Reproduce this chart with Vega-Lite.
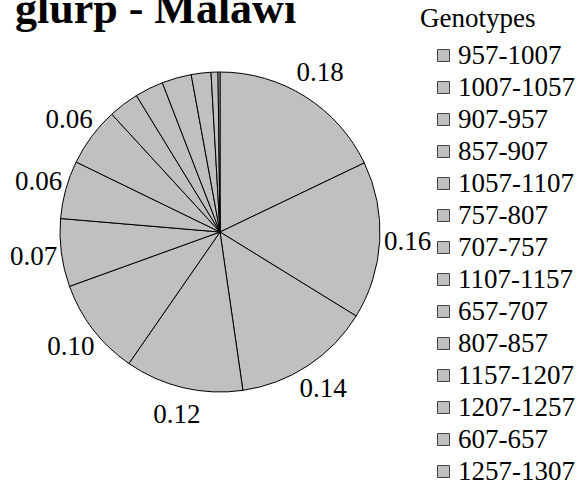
{
  "$schema": "https://vega.github.io/schema/vega-lite/v6.json",
  "width": 440,
  "height": 464,
  "autosize": {"type": "none"},
  "padding": {"left": 0, "top": 0, "right": 147, "bottom": 22},
  "background": "white",
  "title": {
    "text": "glurp - Malawi",
    "anchor": "start",
    "frame": "group",
    "font": "Liberation Serif",
    "fontSize": 44,
    "fontWeight": "bold",
    "color": "black",
    "baseline": "alphabetic",
    "offset": 0,
    "dx": 15,
    "dy": 67
  },
  "data": {
    "values": [
      {"genotype": "957-1007", "share": 0.180, "k": 1},
      {"genotype": "1007-1057", "share": 0.160, "k": 2},
      {"genotype": "907-957", "share": 0.140, "k": 3},
      {"genotype": "857-907", "share": 0.120, "k": 4},
      {"genotype": "1057-1107", "share": 0.099, "k": 5},
      {"genotype": "757-807", "share": 0.069, "k": 6},
      {"genotype": "707-757", "share": 0.059, "k": 7},
      {"genotype": "1107-1157", "share": 0.060, "k": 8},
      {"genotype": "657-707", "share": 0.031, "k": 9},
      {"genotype": "807-857", "share": 0.029, "k": 10},
      {"genotype": "1157-1207", "share": 0.030, "k": 11},
      {"genotype": "1207-1257", "share": 0.020, "k": 12},
      {"genotype": "607-657", "share": 0.007, "k": 13},
      {"genotype": "1257-1307", "share": 0.002, "k": 14}
    ]
  },
  "encoding": {
    "theta": {"field": "share", "type": "quantitative", "stack": true},
    "order": {"field": "k", "type": "quantitative", "sort": "ascending"}
  },
  "layer": [
    {
      "mark": {"type": "arc", "outerRadius": 160, "stroke": "black", "strokeWidth": 1},
      "encoding": {
        "color": {
          "field": "genotype",
          "type": "nominal",
          "scale": {
            "domain": ["957-1007", "1007-1057", "907-957", "857-907", "1057-1107", "757-807", "707-757", "1107-1157", "657-707", "807-857", "1157-1207", "1207-1257", "607-657", "1257-1307"],
            "range": ["#c0c0c0"]
          },
          "legend": {
            "title": "Genotypes",
            "orient": "none",
            "legendX": 420,
            "legendY": 6,
            "symbolType": "square",
            "symbolSize": 144,
            "symbolStrokeColor": "#404040",
            "symbolStrokeWidth": 1,
            "symbolOffset": 10,
            "labelFont": "Liberation Serif",
            "labelFontSize": 27,
            "labelColor": "black",
            "labelOffset": 1,
            "labelLimit": 300,
            "titleFont": "Liberation Serif",
            "titleFontSize": 27,
            "titleFontWeight": "normal",
            "titleColor": "black",
            "titlePadding": 9,
            "rowPadding": 4,
            "padding": 0
          }
        }
      }
    },
    {
      "mark": {"type": "text", "radius": 188, "font": "Liberation Serif", "fontSize": 27, "color": "black", "align": "center", "baseline": "middle"},
      "encoding": {
        "text": {
          "condition": {"test": "datum.share < 0.05", "value": ""},
          "field": "share",
          "type": "quantitative",
          "format": ".2f"
        }
      }
    }
  ]
}
